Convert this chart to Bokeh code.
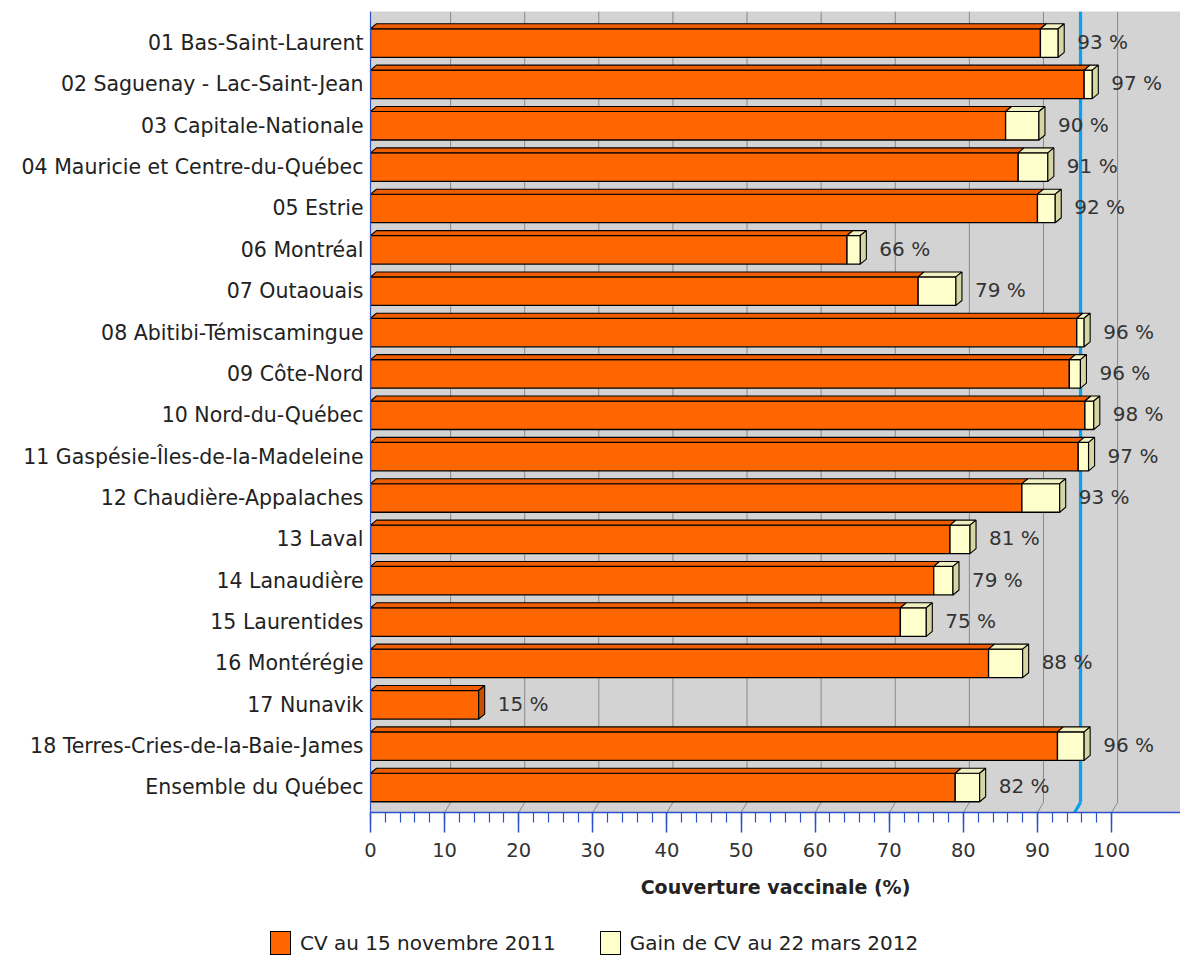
from bokeh.plotting import figure
from bokeh.layouts import column
from bokeh.models import FixedTicker, ColumnDataSource, Range1d, Div
from bokeh.core.properties import value
from bokeh.embed import file_html
from bokeh.resources import INLINE

regions = [
    "01 Bas-Saint-Laurent",
    "02 Saguenay - Lac-Saint-Jean",
    "03 Capitale-Nationale",
    "04 Mauricie et Centre-du-Québec",
    "05 Estrie",
    "06 Montréal",
    "07 Outaouais",
    "08 Abitibi-Témiscamingue",
    "09 Côte-Nord",
    "10 Nord-du-Québec",
    "11 Gaspésie-Îles-de-la-Madeleine",
    "12 Chaudière-Appalaches",
    "13 Laval",
    "14 Lanaudière",
    "15 Laurentides",
    "16 Montérégie",
    "17 Nunavik",
    "18 Terres-Cries-de-la-Baie-James",
    "Ensemble du Québec",
]
cv_nov2011 = [90.4, 96.3, 85.7, 87.4, 90.0, 64.3, 73.9, 95.3, 94.3, 96.4,
              95.5, 87.9, 78.2, 76.0, 71.5, 83.4, 14.6, 92.7, 78.9]
gain_mar2012 = [2.4, 1.1, 4.5, 4.0, 2.4, 1.8, 5.1, 1.0, 1.5, 1.2,
                1.4, 5.1, 2.7, 2.6, 3.5, 4.6, 0.0, 3.6, 3.3]
total_labels = [93, 97, 90, 91, 92, 66, 79, 96, 96, 98,
                97, 93, 81, 79, 75, 88, 15, 96, 82]
target = 95
x_ticks = list(range(0, 101, 10))
x_minor = list(range(0, 101, 2))
legend_labels = ["CV au 15 novembre 2011", "Gain de CV au 22 mars 2012"]

# style constants
ORANGE = "#FF6600"
ORANGE_TOP = "#EE5E00"
ORANGE_SIDE = "#C85000"
YELLOW = "#FFFFCC"
YELLOW_TOP = "#F0F0C2"
YELLOW_SIDE = "#D6D6A4"
BG = "#D3D3D3"
AXIS_BLUE = "#2B50C8"
BAR_H = 0.69
DX = 0.81      # 3D depth, x (data units)
DY = 0.12      # 3D depth for bars, y
FLOOR = 0.242  # depth of the back-plane floor, y
Y0, Y1 = -0.605, 18.762
X0, X1 = 0, 109.3

n = len(regions)
ys = [n - 1 - i for i in range(n)]
totals = [c + g for c, g in zip(cv_nov2011, gain_mar2012)]

p = figure(width=1180, height=920,
           x_range=Range1d(X0, X1), y_range=Range1d(Y0, Y1),
           output_backend="svg", toolbar_location=None,
           min_border_left=370, min_border_right=0,
           min_border_top=11, min_border_bottom=108,
           background_fill_color=BG, border_fill_color="white",
           outline_line_color=None)
p.xgrid.visible = False
p.ygrid.visible = False

# back-plane gridlines with a bend down to the front floor
gx = [t for t in x_ticks if t > 0]
p.segment(x0=[t + DX for t in gx], y0=[Y1] * len(gx),
          x1=[t + DX for t in gx], y1=[Y0 + FLOOR] * len(gx),
          line_color="#8A8A8A", line_width=1)
p.segment(x0=[t + DX for t in gx], y0=[Y0 + FLOOR] * len(gx),
          x1=gx, y1=[Y0] * len(gx),
          line_color="#8A8A8A", line_width=1)

# target line
p.segment(x0=[target + DX], y0=[Y1], x1=[target + DX], y1=[Y0 + FLOOR],
          line_color="#0AA0F0", line_width=3.2)
p.segment(x0=[target + DX], y0=[Y0 + FLOOR], x1=[target], y1=[Y0],
          line_color="#0AA0F0", line_width=3.2)

# front faces
src_o = ColumnDataSource(dict(y=ys, left=[0] * n, right=cv_nov2011))
p.hbar(y="y", left="left", right="right", height=BAR_H, source=src_o,
       fill_color=ORANGE, line_color="black", line_width=1.3)
yi = [i for i in range(n) if gain_mar2012[i] > 0]
src_y = ColumnDataSource(dict(y=[ys[i] for i in yi],
                              left=[cv_nov2011[i] for i in yi],
                              right=[totals[i] for i in yi]))
p.hbar(y="y", left="left", right="right", height=BAR_H, source=src_y,
       fill_color=YELLOW, line_color="black", line_width=1.3)

# top and side faces
top_o_x, top_o_y, top_y_x, top_y_y = [], [], [], []
side_x, side_y, side_c = [], [], []
for i in range(n):
    yt = ys[i] + BAR_H / 2
    yb = ys[i] - BAR_H / 2
    c, t = cv_nov2011[i], totals[i]
    top_o_x.append([0, c, c + DX, DX])
    top_o_y.append([yt, yt, yt + DY, yt + DY])
    if gain_mar2012[i] > 0:
        top_y_x.append([c, t, t + DX, c + DX])
        top_y_y.append([yt, yt, yt + DY, yt + DY])
        side_c.append(YELLOW_SIDE)
    else:
        side_c.append(ORANGE_SIDE)
    side_x.append([t, t + DX, t + DX, t])
    side_y.append([yb, yb + DY, yt + DY, yt])
p.patches(xs=top_o_x, ys=top_o_y, fill_color=ORANGE_TOP, line_color="black", line_width=1.1)
p.patches(xs=top_y_x, ys=top_y_y, fill_color=YELLOW_TOP, line_color="black", line_width=1.1)
p.patches(xs=side_x, ys=side_y, fill_color=side_c, line_color="black", line_width=1.1)

# value labels
src_l = ColumnDataSource(dict(x=totals, y=ys, t=[f"{v} %" for v in total_labels]))
p.text(x="x", y="y", text="t", source=src_l, x_offset=19, y_offset=-1,
       text_align="left", text_baseline="middle",
       text_font=value("DejaVu Sans"), text_font_size="20px", text_color="#333333")

# axes
xa = p.xaxis[0]
xa.ticker = FixedTicker(ticks=x_ticks, minor_ticks=x_minor)
xa.axis_line_color = AXIS_BLUE
xa.axis_line_width = 1.5
xa.major_tick_line_color = AXIS_BLUE
xa.minor_tick_line_color = AXIS_BLUE
xa.major_tick_line_width = 1.5
xa.minor_tick_line_width = 1.2
xa.major_tick_out = 20
xa.major_tick_in = 0
xa.minor_tick_out = 10
xa.minor_tick_in = 0
xa.major_label_standoff = 10
xa.major_label_text_font = "DejaVu Sans"
xa.major_label_text_font_size = "19.5px"
xa.major_label_text_color = "#333333"
xa.axis_label = "Couverture vaccinale (%)"
xa.axis_label_text_font = "DejaVu Sans"
xa.axis_label_text_font_style = "bold"
xa.axis_label_text_font_size = "19px"
xa.axis_label_text_color = "#222222"
xa.axis_label_standoff = 16

ya = p.yaxis[0]
ya.ticker = FixedTicker(ticks=ys)
ya.major_label_overrides = {ys[i]: regions[i] for i in range(n)}
ya.axis_line_color = AXIS_BLUE
ya.axis_line_width = 1.2
ya.major_tick_line_color = None
ya.minor_tick_line_color = None
ya.major_label_standoff = 1
ya.major_label_text_font = "DejaVu Sans"
ya.major_label_text_font_size = "20.5px"
ya.major_label_text_color = "#222222"

# legend strip under the chart
swatch = ("display:inline-block;width:21px;height:24px;box-sizing:border-box;"
          "border:1.3px solid #000;background:{c};margin-right:9px;vertical-align:middle;")
parts = []
for k, (lab, col) in enumerate(zip(legend_labels, [ORANGE, YELLOW])):
    gap = "margin-left:44px;" if k > 0 else ""
    parts.append(f'<span style="{gap}display:inline-flex;align-items:center;">'
                 f'<span style="{swatch.format(c=col)}"></span>'
                 f'<span style="vertical-align:middle;">{lab}</span></span>')
legend_html = ('<div style="padding-left:265px;padding-top:5px;white-space:nowrap;'
               'font-family:\'DejaVu Sans\';font-size:20px;color:#222;line-height:26px;">'
               + "".join(parts) + "</div>")
leg = Div(text=legend_html, width=1180, height=38)

layout = column(p, leg, spacing=0)
open("out.html", "w").write(file_html(layout, INLINE))
